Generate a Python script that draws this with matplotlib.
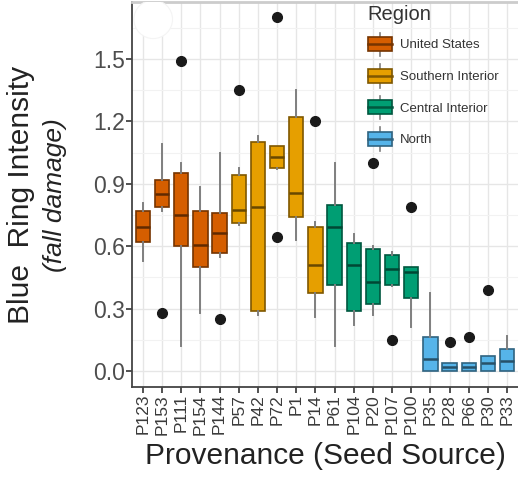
import matplotlib
matplotlib.use('Agg')
import matplotlib.pyplot as plt
from matplotlib.patches import Rectangle, Ellipse, Patch
from matplotlib.lines import Line2D
from matplotlib.legend_handler import HandlerBase
from matplotlib.colors import to_rgb

plt.rcParams['font.family'] = ['Liberation Sans', 'DejaVu Sans']

provenance = ['P123', 'P153', 'P111', 'P154', 'P144',
              'P57', 'P42', 'P72', 'P1', 'P14',
              'P61', 'P104', 'P20', 'P107', 'P100',
              'P35', 'P28', 'P66', 'P30', 'P33']
region = (['United States'] * 5 + ['Southern Interior'] * 5 +
          ['Central Interior'] * 5 + ['North'] * 5)
regions = ['United States', 'Southern Interior', 'Central Interior', 'North']
region_colors = {'United States': '#D55E00', 'Southern Interior': '#E69F00',
                 'Central Interior': '#009E73', 'North': '#56B4E9'}

# five-number summaries per provenance
whislo = [0.53, 0.77, 0.12, 0.28, 0.55, 0.70, 0.27, 0.97, 0.63, 0.26,
          0.12, 0.22, 0.27, 0.41, 0.21, 0.00, 0.00, 0.00, 0.00, 0.00]
q1 = [0.62, 0.79, 0.60, 0.50, 0.565, 0.71, 0.29, 0.975, 0.74, 0.375,
      0.415, 0.29, 0.32, 0.415, 0.35, 0.00, 0.00, 0.00, 0.00, 0.00]
med = [0.69, 0.85, 0.75, 0.605, 0.665, 0.775, 0.79, 1.03, 0.855, 0.51,
       0.69, 0.51, 0.43, 0.49, 0.475, 0.06, 0.02, 0.02, 0.04, 0.05]
q3 = [0.77, 0.92, 0.95, 0.77, 0.76, 0.94, 1.10, 1.08, 1.22, 0.69,
      0.80, 0.615, 0.585, 0.56, 0.50, 0.165, 0.04, 0.04, 0.07, 0.105]
whishi = [0.81, 1.09, 1.00, 0.885, 1.05, 0.975, 1.13, 1.08, 1.35, 0.715,
          1.00, 0.66, 0.60, 0.57, 0.50, 0.375, 0.04, 0.04, 0.07, 0.17]
outliers = [[], [0.28], [1.49], [], [0.25], [1.35], [], [1.70, 0.645], [], [1.20],
            [], [], [1.00], [0.15], [0.79], [], [0.14], [0.165], [0.39], []]

yticks = [0.0, 0.3, 0.6, 0.9, 1.2, 1.5]
ytick_labels = ['0.0', '0.3', '0.6', '0.9', '1.2', '1.5']


def darker(c, f=0.55):
    r, g, b = to_rgb(c)
    return (r * f, g * f, b * f)


class BoxKey(HandlerBase):
    # little boxplot glyph for the legend keys
    def create_artists(self, legend, orig_handle, xdescent, ydescent,
                       width, height, fontsize, trans):
        fc = orig_handle.get_facecolor()
        ec = orig_handle.get_edgecolor()
        x0, y0 = -xdescent, -ydescent
        xm = x0 + width / 2
        box = Rectangle((x0 + 0.05 * width, y0 + 0.2 * height), 0.9 * width, 0.6 * height,
                        facecolor=fc, edgecolor=ec, lw=1.2, transform=trans)
        wl = Line2D([xm, xm], [y0, y0 + 0.2 * height], color='#7f7f7f', lw=1.2, transform=trans)
        wh = Line2D([xm, xm], [y0 + 0.8 * height, y0 + height], color='#7f7f7f', lw=1.2, transform=trans)
        md = Line2D([x0 + 0.05 * width, x0 + 0.95 * width], [y0 + 0.5 * height] * 2,
                    color=ec, lw=1.8, transform=trans)
        return [wl, wh, box, md]


fig = plt.figure(figsize=(5.18, 4.78), dpi=100)
ax = fig.add_axes([132 / 518, 1 - 387 / 478, 386 / 518, 385 / 478])

positions = list(range(1, len(provenance) + 1))
stats = []
for i, name in enumerate(provenance):
    stats.append({'label': name, 'whislo': whislo[i], 'q1': q1[i], 'med': med[i],
                  'q3': q3[i], 'whishi': whishi[i], 'fliers': outliers[i]})

bp = ax.bxp(stats, positions=positions, widths=0.75, patch_artist=True,
            showcaps=False,
            whiskerprops=dict(color='#7f7f7f', lw=1.4),
            medianprops=dict(lw=1.8),
            flierprops=dict(marker='o', markersize=7, markerfacecolor='#1a1a1a',
                            markeredgecolor='#1a1a1a'))

for i, patch in enumerate(bp['boxes']):
    c = region_colors[region[i]]
    patch.set_facecolor(c)
    patch.set_edgecolor(darker(c))
    patch.set_linewidth(1.2)
    bp['medians'][i].set_color(darker(c, 0.45))

ax.set_xlim(0.43, 20.57)
ax.set_ylim(-0.077, 1.774)
ax.set_yticks(yticks)
ax.set_yticklabels(ytick_labels)
ax.set_yticks([0.15, 0.45, 0.75, 1.05, 1.35, 1.65], minor=True)
ax.set_xticks(positions)
ax.set_xticklabels(provenance, rotation=90)

ax.grid(True, which='major', color='#E6E6E6', lw=1.0)
ax.grid(True, which='minor', axis='y', color='#F2F2F2', lw=0.8)
ax.set_axisbelow(True)

ax.tick_params(axis='y', labelsize=16.5, labelcolor='#4D4D4D', color='#333333',
               length=4, width=1.2, pad=1)
ax.tick_params(axis='x', labelsize=12.5, labelcolor='#3a3a3a', color='#333333',
               length=4, width=1.2, pad=1)
ax.tick_params(which='minor', length=0)

for side in ['left', 'bottom']:
    ax.spines[side].set_color('#444444')
    ax.spines[side].set_linewidth(1.3)
ax.spines['top'].set_color('#CCCCCC')
ax.spines['top'].set_linewidth(2)
ax.spines['right'].set_visible(False)

# white blot near the upper-left corner of the panel
ax.add_patch(Ellipse((0.055, 0.955), 0.1, 0.1, transform=ax.transAxes,
                     facecolor='white', edgecolor='#f4f4f4', lw=0.8, zorder=5))

handles = [Patch(facecolor=region_colors[r], edgecolor=darker(region_colors[r])) for r in regions]
leg = ax.legend(handles, regions, title='Region', loc='upper left',
                bbox_to_anchor=(0.585, 1.015), frameon=False, fontsize=9.5,
                title_fontsize=14.5, handler_map={Patch: BoxKey()},
                handlelength=2.0, handleheight=2.35, labelspacing=0.62,
                handletextpad=0.5, borderpad=0.2, alignment='left')
leg.get_title().set_color('#333333')
for t in leg.get_texts():
    t.set_color('#333333')

ax.set_xlabel('Provenance (Seed Source)', fontsize=21.5, color='#222222', labelpad=5)
fig.text(21 / 518, 1 - 195 / 478, 'Blue  Ring Intensity', rotation=90, fontsize=21.5,
         ha='center', va='center', color='#222222')
fig.text(55 / 518, 1 - 195 / 478, '(fall damage)', rotation=90, fontsize=19,
         style='italic', ha='center', va='center', color='#222222')

fig.savefig('out.png', dpi=100)
